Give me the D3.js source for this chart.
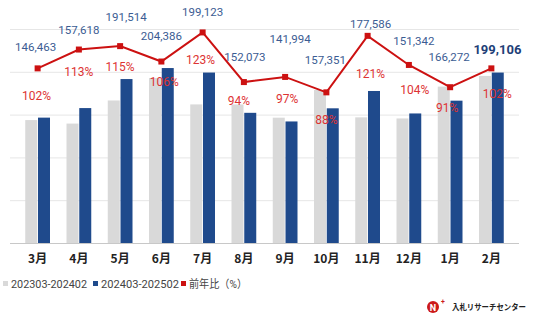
<!DOCTYPE html>
<html><head><meta charset="utf-8">
<script src="https://cdn.jsdelivr.net/npm/d3@7"></script>
<style>
html,body{margin:0;padding:0;background:#fff;}
svg{display:block;}
</style></head>
<body><svg id="c" width="536" height="322"></svg>
<script>
const months = ["3月","4月","5月","6月","7月","8月","9月","10月","11月","12月","1月","2月"];
const prevYear = [143600,139500,166500,192800,161900,161800,146400,178800,146800,145500,182700,195200];
const thisYear = [146463,157618,191514,204386,199123,152073,141994,157351,177586,151342,166272,199106];
const ratio = [102,113,115,106,123,94,97,88,121,104,91,102];
const yTicks = [0,50000,100000,150000,200000,250000];
const seriesNames = ["202303-202402","202403-202502","前年比（%）"];
// label placement offsets (px) relative to line points
const valDy = [-21,-20,-29,-26,-20,-25,-38,-32,-12,-24,-30,-18];
const valDx = [-2,0,6,0,0,1,5,-1,3,5,-1,6];
const pctDy = [28,22,21,20,28,19,22,28,38,25,21,26];
const pctDx = [-1,0,0,3,-2,-5,2,0,3,6,-3,6];

const colors = {prev:"#d9d9d9", cur:"#1f4a8c", line:"#cc1111", val:"#3b5c93", pct:"#dd3333"};
const svg = d3.select("#c");
const x = d3.scaleBand().domain(months).range([17,512]).paddingInner(0.4).paddingOuter(0.2);
const x1 = d3.scaleBand().domain(["prev","cur"]).range([0,x.bandwidth()]).paddingInner(0.06);
const y = d3.scaleLinear().domain([0,250000]).range([243,29]);
const y2 = d3.scaleLinear().domain([0,125]).range([243,29]);

// grid
svg.append("g").selectAll("line").data(yTicks).join("line")
  .attr("x1",10).attr("x2",519)
  .attr("y1",d=>y(d)+0.5).attr("y2",d=>y(d)+0.5)
  .attr("stroke",d=>d===0?"#c8c8c8":"#e6e6e6").attr("stroke-width",1);

// bars
const g = svg.append("g");
months.forEach((m,i)=>{
  g.append("rect").attr("x",x(m)+x1("prev")).attr("width",x1.bandwidth())
    .attr("y",y(prevYear[i])).attr("height",y(0)-y(prevYear[i])).attr("fill",colors.prev);
  g.append("rect").attr("x",x(m)+x1("cur")).attr("width",x1.bandwidth())
    .attr("y",y(thisYear[i])).attr("height",y(0)-y(thisYear[i])).attr("fill",colors.cur);
});

// x axis labels
svg.append("g").selectAll("text").data(months).join("text")
  .attr("x",d=>x(d)+x.bandwidth()/2).attr("y",263)
  .attr("text-anchor","middle").attr("font-family","'Noto Sans CJK JP','Noto Sans',sans-serif")
  .attr("font-size",12).attr("font-weight","bold").attr("fill","#222").text(d=>d);

// line
const cx = d=>x(d)+x.bandwidth()/2;
const line = d3.line().x((d,i)=>cx(months[i])).y(d=>y2(d));
svg.append("path").datum(ratio).attr("d",line).attr("fill","none")
  .attr("stroke",colors.line).attr("stroke-width",2);
svg.append("g").selectAll("rect").data(ratio).join("rect")
  .attr("x",(d,i)=>cx(months[i])-3).attr("y",d=>y2(d)-3)
  .attr("width",6).attr("height",6).attr("fill",colors.line);

// value labels
svg.append("g").selectAll("text").data(thisYear).join("text")
  .attr("x",(d,i)=>cx(months[i])+valDx[i]).attr("y",(d,i)=>y2(ratio[i])+valDy[i]+4)
  .attr("text-anchor","middle").attr("font-family","Roboto,sans-serif")
  .attr("font-size",(d,i)=>i===11?13:11.5).attr("font-weight",(d,i)=>i===11?"bold":"normal")
  .attr("fill",(d,i)=>i===11?"#1f3f78":colors.val).text(d=>d3.format(",")(d));

// pct labels
svg.append("g").selectAll("text").data(ratio).join("text")
  .attr("x",(d,i)=>cx(months[i])+pctDx[i]).attr("y",(d,i)=>y2(d)+pctDy[i]+4)
  .attr("text-anchor","middle").attr("font-family","Roboto,sans-serif")
  .attr("font-size",12).attr("fill",colors.pct).text(d=>d+"%");

// legend
const leg = [{n:seriesNames[0],c:colors.prev,x:3,w:76},{n:seriesNames[1],c:colors.cur,x:93,w:78},{n:seriesNames[2],c:colors.line,x:181,w:58}];
const lg = svg.append("g");
leg.forEach(l=>{
  lg.append("rect").attr("x",l.x).attr("y",281).attr("width",5).attr("height",5).attr("fill",l.c);
  lg.append("text").attr("x",l.x+8).attr("y",287.5).attr("font-family","Roboto,'Noto Sans CJK JP',sans-serif")
    .attr("font-size",11).attr("fill","#444").attr("textLength",l.w).attr("lengthAdjust","spacingAndGlyphs").text(l.n);
});

// logo
const lo = svg.append("g");
lo.append("circle").attr("cx",433).attr("cy",307).attr("r",6).attr("fill","#cc1a1a");
lo.append("text").attr("x",433).attr("y",310.5).attr("text-anchor","middle").attr("font-family","Roboto,sans-serif")
  .attr("font-size",9).attr("font-weight","bold").attr("fill","#fff").text("N");
lo.append("text").attr("x",441).attr("y",304).attr("font-family","Roboto,sans-serif")
  .attr("font-size",7).attr("font-weight","bold").attr("fill","#cc1a1a").text("+");
lo.append("text").attr("x",452).attr("y",310).attr("font-family","'Noto Sans CJK JP',sans-serif")
  .attr("font-size",8).attr("font-weight","bold").attr("fill","#222")
  .attr("textLength",74).attr("lengthAdjust","spacingAndGlyphs").text("入札リサーチセンター");
</script></body></html>
